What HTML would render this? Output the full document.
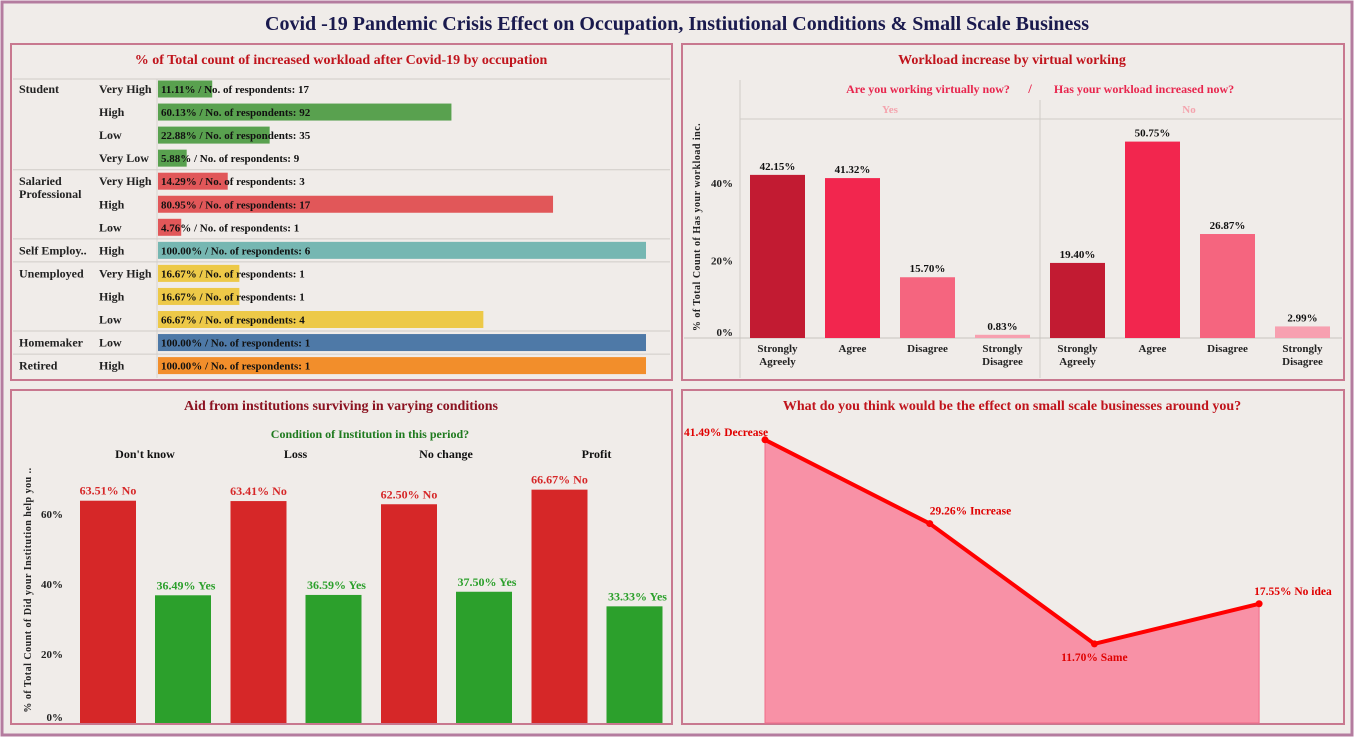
<!DOCTYPE html>
<html><head><meta charset="utf-8"><style>
html,body{margin:0;padding:0;background:#fff;width:1354px;height:739px;overflow:hidden}
svg{display:block;font-family:"Liberation Serif",serif;font-weight:bold}
</style></head><body>
<svg id="s" width="1354" height="739" xmlns="http://www.w3.org/2000/svg">
<rect x="2" y="2" width="1350" height="733" fill="#f0ece9" stroke="#b47c9f" stroke-width="3"/>
<text x="677" y="30" text-anchor="middle" font-size="20" fill="#1a1a4e">Covid -19 Pandemic Crisis Effect on  Occupation, Instiutional Conditions &amp; Small Scale Business</text>
<rect x="11" y="44" width="661" height="336" fill="none" stroke="#c8788f" stroke-width="2"/>
<rect x="682" y="44" width="662" height="336" fill="none" stroke="#c8788f" stroke-width="2"/>
<rect x="11" y="390" width="661" height="334" fill="none" stroke="#c8788f" stroke-width="2"/>
<rect x="682" y="390" width="662" height="334" fill="none" stroke="#c8788f" stroke-width="2"/>
<g id="g1"></g><g id="g2"></g><g id="g3"></g><g id="g4"></g>
</svg>
<script>
// Chart 1 data
const occGroups=["Student","Student","Student","Student","Salaried","Salaried","Salaried","Self","Unemployed","Unemployed","Unemployed","Homemaker","Retired"];
const occLevels=["Very High","High","Low","Very Low","Very High","High","Low","High","Very High","High","Low","Low","High"];
const occPct=[11.11,60.13,22.88,5.88,14.29,80.95,4.76,100,16.67,16.67,66.67,100,100];
const occCount=[17,92,35,9,3,17,1,6,1,1,4,1,1];
// Chart 2 data
const vGroups=["Yes","No"];
const vCats=["Strongly|Agreely","Agree","Disagree","Strongly|Disagree"];
const vYes=[42.15,41.32,15.70,0.83];
const vNo=[19.40,50.75,26.87,2.99];
const vTicks=[0,20,40];
// Chart 3 data
const iConds=["Don't know","Loss","No change","Profit"];
const iNo=[63.51,63.41,62.50,66.67];
const iYes=[36.49,36.59,37.50,33.33];
const iTicks=[0,20,40,60];
// Chart 4 data
const bCats=["Decrease","Increase","Same","No idea"];
const bVals=[41.49,29.26,11.70,17.55];

const NS="http://www.w3.org/2000/svg";
function el(p,t,a,txt){const e=document.createElementNS(NS,t);for(const k in a)e.setAttribute(k,a[k]);if(txt!==undefined)e.textContent=txt;p.appendChild(e);return e;}

// ---- Chart 1
const g1=document.getElementById('g1');
let t=el(g1,'text',{x:341,y:64,'text-anchor':'middle','font-size':14,fill:'#c0141c'},'% of Total count of increased workload after Covid-19 by occupation');

const colors={Student:'#59a14f',Salaried:'#e15759',Self:'#76b7b2',Unemployed:'#edc948',Homemaker:'#4e79a7',Retired:'#f28e2b'};
const names={Student:['Student'],Salaried:['Salaried','Professional'],Self:['Self Employ..'],Unemployed:['Unemployed'],Homemaker:['Homemaker'],Retired:['Retired']};
const x1=v=>158+v*4.88;
const rowY=i=>89+i*23.05;
let ln=el(g1,'line',{x1:157,y1:79,x2:157,y2:378,stroke:'#d8d4d0'});

el(g1,'line',{x1:13,y1:79,x2:670,y2:79,stroke:'#d0ccc8'});
occPct.forEach((v,i)=>{
  const y=rowY(i);
  if(i===0||occGroups[i]!==occGroups[i-1]){
    if(i>0){const l=el(g1,'line',{x1:13,y1:y-11.5,x2:670,y2:y-11.5,stroke:'#d0ccc8'});}
    names[occGroups[i]].forEach((n,k)=>{const tt=el(g1,'text',{x:19,y:y+4+k*13,'font-size':12,fill:'#222'},n);});
  }
  const lt=el(g1,'text',{x:99,y:y+4,'font-size':12,fill:'#222'},occLevels[i]);
  
  const r=el(g1,'rect',{x:158,y:y-8.5,width:x1(v)-158,height:17,fill:colors[occGroups[i]]});
  
  const vt=el(g1,'text',{x:161,y:y+4,'font-size':11,fill:'#111'},v.toFixed(2)+'% / No. of respondents: '+occCount[i]);
  
});

// ---- Chart 2
const g2=document.getElementById('g2');
t=el(g2,'text',{x:1012,y:64,'text-anchor':'middle','font-size':14,fill:'#c0141c'},'Workload increase by virtual working');

const base2=338,ys2=v=>base2-v*3.87;
el(g2,'line',{x1:740,y1:80,x2:740,y2:378,stroke:'#d0ccc8'});
el(g2,'line',{x1:1040,y1:100,x2:1040,y2:378,stroke:'#d0ccc8'});
el(g2,'line',{x1:740,y1:119,x2:1342,y2:119,stroke:'#d0ccc8'});
el(g2,'line',{x1:684,y1:base2,x2:1342,y2:base2,stroke:'#c8c4c0'});
t=el(g2,'text',{x:928,y:93,'text-anchor':'middle','font-size':12,fill:'#e8264e'},'Are you working virtually now?');
el(g2,'text',{x:1030,y:93,'text-anchor':'middle','font-size':13,fill:'#e8264e'},'/');
t=el(g2,'text',{x:1144,y:93,'text-anchor':'middle','font-size':12,fill:'#e8264e'},'Has your workload increased now?');
vGroups.forEach((g,gi)=>{const tt=el(g2,'text',{x:890+gi*299,y:113,'text-anchor':'middle','font-size':11,fill:'#f4a3ad'},g);});
vTicks.forEach(v=>{const tt=el(g2,'text',{x:733,y:ys2(v)+(v===0?-2:4),'text-anchor':'end','font-size':11,fill:'#222'},v+'%');});
t=el(g2,'text',{transform:'translate(700,227) rotate(-90)','text-anchor':'middle','font-size':10,fill:'#222','letter-spacing':'0.5'},'% of Total Count of Has your workload inc.');

const vCol=['#c21b32','#f2264e','#f5657f','#f7a0b0'];
[vYes,vNo].forEach((arr,gi)=>{arr.forEach((v,i)=>{
  const x=750+gi*300+i*75;
  const r=el(g2,'rect',{x:x,y:ys2(v),width:55,height:v*3.87,fill:vCol[i]});
  
  const vt=el(g2,'text',{x:x+27.5,y:ys2(v)-5,'text-anchor':'middle','font-size':11,fill:'#111'},v.toFixed(2)+'%');
  
  vCats[i].split('|').forEach((p,k)=>{const tt=el(g2,'text',{x:x+27.5,y:352+k*13,'text-anchor':'middle','font-size':11,fill:'#222'},p);});
});});

// ---- Chart 3
const g3=document.getElementById('g3');
t=el(g3,'text',{x:341,y:410,'text-anchor':'middle','font-size':14,fill:'#8b1220'},'Aid from institutions surviving in varying conditions');

t=el(g3,'text',{x:370,y:438,'text-anchor':'middle','font-size':12,fill:'#1e7a1e'},'Condition of Institution in this period?');

const base3=723,ys3=v=>base3-v*3.5;
iTicks.forEach(v=>{const tt=el(g3,'text',{x:63,y:ys3(v)+(v===0?-2:5),'text-anchor':'end','font-size':11,fill:'#222'},v+'%');});
t=el(g3,'text',{transform:'translate(31,590) rotate(-90)','text-anchor':'middle','font-size':10,fill:'#222','letter-spacing':'0.5'},'% of Total Count of Did your Institution help you ..');

iConds.forEach((c,i)=>{
  const x=80+i*150.5;
  const tt=el(g3,'text',{x:x+65,y:458,'text-anchor':'middle','font-size':12,fill:'#111'},c);
  let r=el(g3,'rect',{x:x,y:ys3(iNo[i]),width:56,height:iNo[i]*3.5,fill:'#d62728'});
  r=el(g3,'rect',{x:x+75,y:ys3(iYes[i]),width:56,height:iYes[i]*3.5,fill:'#2ca02c'});
  let vt=el(g3,'text',{x:x+28,y:ys3(iNo[i])-6,'text-anchor':'middle','font-size':12,fill:'#d62728'},iNo[i].toFixed(2)+'%  No');
  vt=el(g3,'text',{x:x+106,y:ys3(iYes[i])-6,'text-anchor':'middle','font-size':12,fill:'#2ca02c'},iYes[i].toFixed(2)+'%  Yes');
});

// ---- Chart 4
const g4=document.getElementById('g4');
t=el(g4,'text',{x:1012,y:410,'text-anchor':'middle','font-size':14,fill:'#c0141c'},'What do you think would be the effect on small scale businesses around you?');

const bx=i=>765+i*164.7, by=v=>724-v*6.85;
let pts=bVals.map((v,i)=>bx(i)+','+by(v)).join(' ');
let area=el(g4,'polygon',{points:bx(0)+',723 '+pts+' '+bx(bVals.length-1)+',723',fill:'#f891a6',stroke:'#f06a88','stroke-width':1});

let line=el(g4,'polyline',{points:pts,fill:'none',stroke:'#ff0000','stroke-width':4,'stroke-linejoin':'round'});

const lOff=[[-81,-4,'start'],[0,-9,'start'],[0,17,'middle'],[-5,-9,'start']];
bVals.forEach((v,i)=>{
  const c=el(g4,'circle',{cx:bx(i),cy:by(v),r:3.5,fill:'#ff0000'});
  const tt=el(g4,'text',{x:bx(i)+lOff[i][0],y:by(v)+lOff[i][1],'text-anchor':lOff[i][2],'font-size':11.5,fill:'#e00000'},v.toFixed(2)+'% '+bCats[i]);
  
});
</script>
</body></html>
